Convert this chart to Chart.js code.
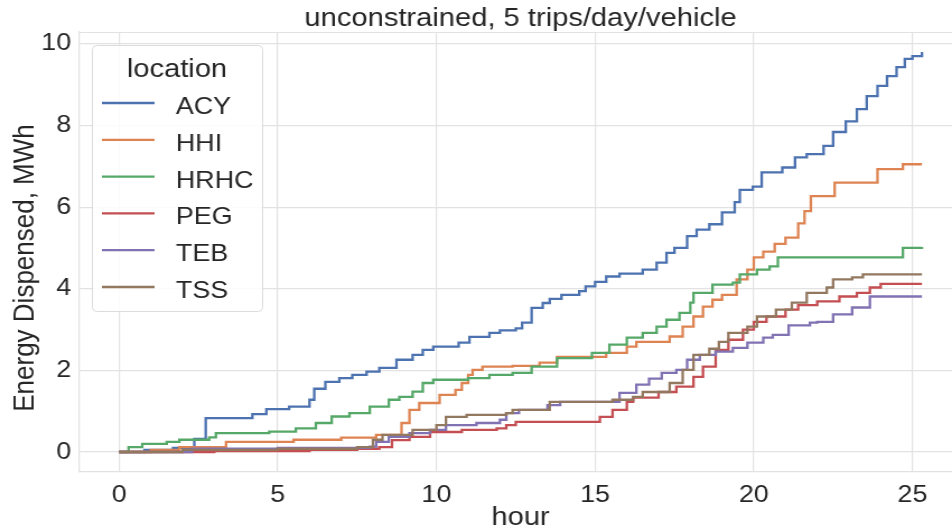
<!DOCTYPE html>
<html>
<head>
<meta charset="utf-8">
<title>Energy dispensed</title>
<script src="https://cdn.jsdelivr.net/npm/chart.js@4"></script>
<style>
  html, body { margin: 0; padding: 0; background: #fff; overflow: hidden; width: 952px; height: 531px; }
  /* the source figure is a bit wider than tall, so the whole canvas is stretched */
  #wrap { width: 880px; height: 531px; transform: scaleX(1.12); transform-origin: 0 0; }
</style>
</head>
<body>
<div id="wrap"><canvas id="energyChart" width="880" height="531"></canvas></div>
<script>
// ---------- data (hour of jump, cumulative MWh after the jump) ----------
const locations = ["ACY", "HHI", "HRHC", "PEG", "TEB", "TSS"];
const hourTicks = [0, 5, 10, 15, 20, 25];
const energyTicks = [0, 2, 4, 6, 8, 10];

const acyHours = [0, 0.8, 1.7, 2.37, 2.73, 4.2, 4.64, 5.36, 6.0, 6.15, 6.5, 6.94, 7.35, 7.8, 8.2, 8.74, 9.25, 9.57, 9.9, 10.7, 11.04, 11.67, 12.0, 12.5, 12.7, 13.0, 13.35, 13.57, 13.94, 14.5, 14.7, 15.0, 15.35, 15.77, 16.5, 16.94, 17.25, 17.5, 17.9, 18.2, 18.6, 19.0, 19.4, 19.56, 19.97, 20.25, 20.9, 21.3, 21.67, 22.2, 22.5, 22.9, 23.25, 23.56, 23.9, 24.2, 24.5, 24.76, 25.0, 25.3];
const acyMWh   = [0, 0.05, 0.1, 0.32, 0.83, 0.93, 1.05, 1.11, 1.28, 1.55, 1.72, 1.81, 1.89, 1.97, 2.06, 2.26, 2.38, 2.5, 2.58, 2.68, 2.82, 2.92, 2.98, 3.03, 3.17, 3.53, 3.65, 3.75, 3.85, 3.94, 4.06, 4.17, 4.3, 4.37, 4.47, 4.64, 4.88, 5.0, 5.29, 5.45, 5.58, 5.87, 6.12, 6.42, 6.5, 6.85, 6.97, 7.22, 7.3, 7.5, 7.84, 8.1, 8.4, 8.72, 8.97, 9.21, 9.43, 9.63, 9.7, 9.8];

const hhiHours = [0, 1.0, 1.9, 3.37, 5.5, 7.0, 8.1, 8.9, 9.15, 9.46, 10.1, 10.6, 10.8, 11.0, 11.14, 11.45, 12.4, 13.25, 13.8, 15.35, 16.0, 16.3, 17.35, 17.76, 18.1, 18.4, 18.7, 19.0, 19.46, 19.8, 20.0, 20.3, 20.66, 21.0, 21.4, 21.6, 21.8, 22.55, 23.9, 24.7, 25.3];
const hhiMWh   = [0, 0.05, 0.12, 0.25, 0.3, 0.35, 0.42, 0.71, 1.03, 1.2, 1.4, 1.52, 1.69, 1.89, 2.01, 2.09, 2.11, 2.19, 2.33, 2.43, 2.58, 2.7, 2.83, 3.07, 3.32, 3.56, 3.73, 3.85, 4.23, 4.47, 4.77, 4.91, 5.1, 5.25, 5.6, 5.9, 6.27, 6.6, 6.93, 7.05, 7.05];

const hrhcHours = [0, 0.3, 0.73, 1.5, 1.9, 2.84, 3.05, 4.73, 5.57, 6.2, 6.7, 7.26, 7.9, 8.5, 8.83, 9.25, 9.57, 9.9, 11.0, 11.67, 12.4, 13.0, 13.8, 14.9, 15.45, 16.0, 16.5, 16.94, 17.25, 17.66, 18.0, 18.1, 18.7, 19.34, 19.56, 20.1, 20.5, 20.76, 24.7, 25.3];
const hrhcMWh   = [0, 0.12, 0.2, 0.25, 0.3, 0.36, 0.46, 0.5, 0.58, 0.71, 0.87, 0.95, 1.11, 1.28, 1.35, 1.48, 1.69, 1.77, 1.81, 1.89, 1.94, 2.09, 2.3, 2.43, 2.63, 2.8, 2.92, 3.07, 3.24, 3.41, 3.66, 3.9, 4.1, 4.15, 4.35, 4.47, 4.55, 4.77, 5.0, 5.02];

const pegHours = [0, 3.0, 6.0, 7.5, 8.2, 8.6, 9.15, 9.8, 10.8, 11.9, 12.2, 12.5, 15.15, 15.55, 16.0, 16.2, 17.0, 17.56, 18.1, 18.4, 18.8, 19.2, 19.66, 20.0, 20.4, 21.0, 21.4, 22.0, 22.7, 23.25, 23.66, 24.0, 25.3];
const pegMWh   = [0, 0.02, 0.05, 0.08, 0.12, 0.29, 0.37, 0.49, 0.54, 0.58, 0.66, 0.74, 0.86, 1.03, 1.23, 1.33, 1.47, 1.6, 1.84, 2.09, 2.5, 2.75, 3.0, 3.19, 3.32, 3.49, 3.6, 3.69, 3.81, 3.9, 4.03, 4.12, 4.12];

const tebHours = [0, 2.3, 5.0, 7.9, 8.1, 8.5, 9.15, 9.8, 10.3, 11.26, 12.0, 12.2, 12.6, 13.5, 13.9, 15.77, 16.3, 16.7, 17.1, 17.56, 17.9, 18.3, 18.8, 19.34, 19.8, 20.3, 20.6, 21.1, 21.77, 22.0, 22.5, 23.1, 23.66, 25.3];
const tebMWh   = [0, 0.08, 0.1, 0.13, 0.25, 0.37, 0.46, 0.54, 0.66, 0.71, 0.79, 0.95, 1.03, 1.15, 1.23, 1.45, 1.65, 1.8, 1.94, 2.01, 2.26, 2.38, 2.46, 2.55, 2.68, 2.8, 2.87, 3.1, 3.17, 3.19, 3.37, 3.54, 3.81, 3.81];

const tssHours = [0, 2.0, 5.0, 7.5, 8.0, 8.3, 9.25, 10.0, 10.3, 10.95, 12.2, 12.4, 13.57, 15.55, 16.2, 16.5, 17.35, 17.76, 18.1, 18.6, 18.9, 19.2, 19.8, 20.1, 20.7, 21.2, 21.67, 22.3, 22.5, 23.1, 23.44, 25.3];
const tssMWh   = [0, 0.05, 0.08, 0.12, 0.3, 0.42, 0.54, 0.66, 0.86, 0.91, 0.95, 1.03, 1.23, 1.28, 1.35, 1.47, 1.69, 2.01, 2.38, 2.53, 2.7, 2.92, 3.07, 3.32, 3.49, 3.66, 3.9, 4.03, 4.23, 4.28, 4.35, 4.35];

const seriesHours = [acyHours, hhiHours, hrhcHours, pegHours, tebHours, tssHours];
const seriesMWh = [acyMWh, hhiMWh, hrhcMWh, pegMWh, tebMWh, tssMWh];

// seaborn "deep" palette
const colors = ["#4c72b0", "#dd8452", "#55a868", "#c44e52", "#8172b3", "#937860"];

// ---------- helpers ----------
const FONT = '"Liberation Sans", Arial, sans-serif';
const TEXT = "#262626";
const GRID = "#e2e2e2";

// matplotlib puts 5% margins around the data
const xMax = 25.3, yMax = 9.8;
const xPad = xMax * 0.05, yPad = yMax * 0.05;

function toPoints(hours, vals) {
  return hours.map((h, i) => ({ x: h, y: vals[i] }));
}

// top spine, y label and legend box (matplotlib style, inside the axes)
const frameAndLegend = {
  id: "frameAndLegend",
  afterDraw(chart) {
    const { ctx, chartArea } = chart;
    ctx.save();
    ctx.strokeStyle = GRID;
    ctx.lineWidth = 1.2;
    ctx.beginPath();
    ctx.moveTo(chartArea.left, chartArea.top + 0.5);
    ctx.lineTo(chartArea.right, chartArea.top + 0.5);
    ctx.stroke();

    // y axis label
    ctx.save();
    ctx.translate(30, 268);
    ctx.rotate(-Math.PI / 2);
    ctx.fillStyle = TEXT;
    ctx.font = "26px " + FONT;
    ctx.textAlign = "center";
    ctx.textBaseline = "alphabetic";
    ctx.fillText("Energy Dispensed, MWh", 0, 0);
    ctx.restore();

    const bx = 82, by = 45, bw = 152, bh = 266;
    ctx.fillStyle = "rgba(255,255,255,0.85)";
    ctx.strokeStyle = "#dcdcdc";
    ctx.lineWidth = 1;
    ctx.beginPath();
    ctx.roundRect(bx + 0.5, by + 0.5, bw, bh, 4);
    ctx.fill();
    ctx.stroke();

    ctx.fillStyle = TEXT;
    ctx.textBaseline = "alphabetic";
    ctx.textAlign = "center";
    ctx.font = "26px " + FONT;
    ctx.fillText("location", bx + bw / 2, 77);

    ctx.textAlign = "left";
    ctx.font = "24px " + FONT;
    locations.forEach((name, i) => {
      const y = 103 + i * 36.8;
      ctx.strokeStyle = colors[i];
      ctx.lineWidth = 2.3;
      ctx.beginPath();
      ctx.moveTo(91, y);
      ctx.lineTo(138, y);
      ctx.stroke();
      ctx.fillText(name, 157, y + 11);
    });
    ctx.restore();
  }
};

// ---------- chart ----------
new Chart(document.getElementById("energyChart"), {
  type: "line",
  data: {
    datasets: locations.map((name, i) => ({
      label: name,
      data: toPoints(seriesHours[i], seriesMWh[i]),
      borderColor: colors[i],
      backgroundColor: colors[i],
      borderWidth: 2.3,
      pointRadius: 0,
      stepped: true,
      fill: false,
      order: locations.length - i
    }))
  },
  options: {
    responsive: false,
    animation: false,
    layout: { padding: { top: 0, left: 0, right: 21, bottom: 0 } },
    plugins: {
      legend: { display: false },
      tooltip: { enabled: false },
      title: {
        display: true,
        text: "unconstrained, 5 trips/day/vehicle",
        fullSize: false,
        color: TEXT,
        font: { family: FONT, size: 26, weight: "normal", lineHeight: 1 },
        padding: { top: 6, bottom: 0 }
      }
    },
    scales: {
      x: {
        type: "linear",
        min: -xPad,
        max: xMax + xPad,
        afterBuildTicks: s => { s.ticks = hourTicks.map(v => ({ value: v })); },
        afterFit: s => { s.height = 59; },
        ticks: { color: TEXT, font: { family: FONT, size: 24 }, padding: 9, maxRotation: 0 },
        grid: { color: GRID, lineWidth: 1.2, drawTicks: false },
        border: { color: GRID, width: 1.2 },
        title: {
          display: true, text: "hour", color: TEXT,
          font: { family: FONT, size: 26, lineHeight: 1 },
          padding: { top: 0, bottom: 0 }
        }
      },
      y: {
        min: -yPad,
        max: yMax + yPad,
        afterBuildTicks: s => { s.ticks = energyTicks.map(v => ({ value: v })); },
        afterFit: s => { s.width = 70.5; },
        ticks: { color: TEXT, font: { family: FONT, size: 24 }, padding: 7 },
        grid: { color: GRID, lineWidth: 1.2, drawTicks: false },
        border: { color: GRID, width: 1.2 }
      }
    }
  },
  plugins: [frameAndLegend]
});
</script>
</body>
</html>
